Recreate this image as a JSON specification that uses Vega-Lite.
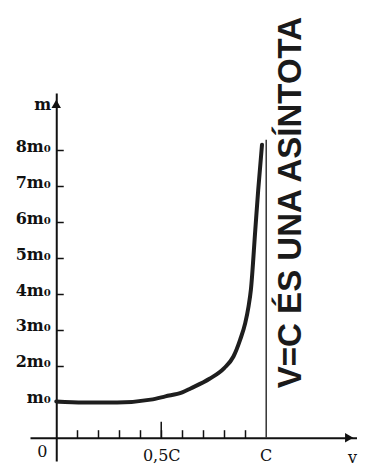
{
  "$schema": "https://vega.github.io/schema/vega-lite/v6.json",
  "width": 326.5,
  "height": 368,
  "autosize": {"type": "none"},
  "padding": {"left": 30, "top": 93, "right": 9.5, "bottom": 12},
  "background": "white",
  "config": {
    "view": {"stroke": null},
    "axis": {"grid": false, "domainColor": "#111", "domainWidth": 2, "tickColor": "#111", "labelColor": "#111", "titleColor": "#111", "labelFont": "DejaVu Serif", "titleFont": "DejaVu Serif"}
  },
  "datasets": {
    "curve": [
      {"v": 0, "m": 1.01},
      {"v": 0.13, "m": 0.98},
      {"v": 0.29, "m": 0.98},
      {"v": 0.45, "m": 1.06},
      {"v": 0.52, "m": 1.15},
      {"v": 0.6, "m": 1.26},
      {"v": 0.64, "m": 1.37},
      {"v": 0.73, "m": 1.64},
      {"v": 0.8, "m": 1.94},
      {"v": 0.844, "m": 2.26},
      {"v": 0.876, "m": 2.73},
      {"v": 0.9, "m": 3.19},
      {"v": 0.916, "m": 3.66},
      {"v": 0.927, "m": 4.12},
      {"v": 0.948, "m": 5.79},
      {"v": 0.962, "m": 6.91},
      {"v": 0.98, "m": 8.16}
    ],
    "one": [{"note": "V=C ÉS UNA ASÍNTOTA"}]
  },
  "layer": [
    {
      "data": {"name": "curve"},
      "mark": {"type": "line", "color": "#1e1e1e", "strokeWidth": 4, "interpolate": "monotone", "strokeCap": "round"},
      "encoding": {
        "x": {
          "field": "v", "type": "quantitative",
          "scale": {"domain": [-0.125, 1.43], "nice": false, "zero": false},
          "axis": {
            "orient": "bottom", "offset": -23.3,
            "values": [0.1, 0.2, 0.3, 0.4, 0.5, 0.6, 0.7, 0.8, 0.9],
            "labelExpr": "abs(datum.value - 0.5) < 0.01 ? '0,5C' : ''",
            "labelOverlap": false, "labelBound": false,
            "tickSize": -8, "tickWidth": 1.5, "labelPadding": 18, "labelBaseline": "top",
            "labelFontSize": 16, "labelFlush": false,
            "title": "v", "titleFontSize": 16, "titleFontWeight": "normal",
            "titleAngle": 0, "titleX": 322, "titleY": 20, "titleAlign": "center", "titleBaseline": "middle"
          }
        },
        "y": {
          "field": "m", "type": "quantitative",
          "scale": {"domain": [-0.65, 9.6], "nice": false, "zero": false},
          "axis": {
            "orient": "left", "offset": -26.25,
            "values": [1, 2, 3, 4, 5, 6, 7, 8],
            "labelExpr": "datum.value == 1 ? 'm₀' : datum.value + 'm₀'",
            "labelOverlap": false,
            "tickSize": -7, "tickWidth": 1.5, "labelPadding": 13,
            "labelBaseline": "alphabetic", "labelOffset": 1,
            "labelFontSize": 16, "labelFontWeight": "bold",
            "title": "m", "titleFontSize": 16, "titleFontWeight": "bold",
            "titleAngle": 0, "titleX": -14, "titleY": 11, "titleAlign": "center", "titleBaseline": "middle"
          }
        }
      }
    },
    {
      "data": {"name": "one"},
      "mark": {"type": "rule", "color": "#333", "strokeWidth": 1.5},
      "encoding": {"x": {"datum": 1}, "y": {"datum": 0}, "y2": {"datum": 8.3}}
    },
    {
      "data": {"name": "one"},
      "mark": {"type": "rule", "color": "#111", "strokeWidth": 1.5},
      "encoding": {"x": {"datum": 0.5}, "y": {"datum": 0}, "y2": {"datum": 0.44}}
    },
    {
      "data": {"name": "one"},
      "mark": {"type": "text", "angle": 270, "font": "Liberation Sans", "fontWeight": "bold", "fontSize": 33, "color": "#1a1a1a", "align": "center", "baseline": "middle"},
      "encoding": {"x": {"datum": 1.119}, "y": {"datum": 6.55}, "text": {"field": "note"}}
    },
    {
      "data": {"name": "one"},
      "mark": {"type": "text", "font": "DejaVu Serif", "fontSize": 16, "color": "#111", "align": "center", "baseline": "middle", "dx": -14, "dy": 14},
      "encoding": {"x": {"datum": 0}, "y": {"datum": 0}, "text": {"value": "0"}}
    },
    {
      "data": {"name": "one"},
      "mark": {"type": "text", "font": "DejaVu Serif", "fontSize": 16, "color": "#111", "align": "center", "baseline": "top", "dy": 10},
      "encoding": {"x": {"datum": 1}, "y": {"datum": 0}, "text": {"value": "C"}}
    },
    {
      "data": {"name": "one"},
      "mark": {"type": "point", "shape": "triangle-up", "filled": true, "color": "#111", "size": 90, "opacity": 1},
      "encoding": {"x": {"datum": 0}, "y": {"datum": 9.3}}
    },
    {
      "data": {"name": "one"},
      "mark": {"type": "point", "shape": "triangle-right", "filled": true, "color": "#111", "size": 90, "opacity": 1},
      "encoding": {"x": {"datum": 1.395}, "y": {"datum": 0}}
    }
  ]
}
